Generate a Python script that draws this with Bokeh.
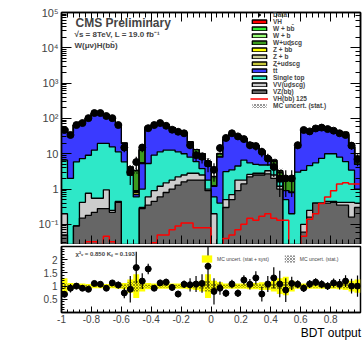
import numpy as np
from math import pi
from bokeh.plotting import figure
from bokeh.layouts import column
from bokeh.models import (Range1d, LogAxis, LinearAxis, Label, Legend, LegendItem,
                          FixedTicker, CustomJSTickFormatter)
from bokeh.embed import file_html
from bokeh.resources import INLINE

FONT = "Liberation Sans"

# ---------------- binning / ticks ----------------
X_MIN, BIN_W, N_BINS = -1.0, 0.04, 50
x_major_ticks = [-1.0, -0.8, -0.6, -0.4, -0.2, 0.0, 0.2, 0.4, 0.6, 0.8]
ratio_ticks = [0.5, 1.0, 1.5, 2.0]

# ---------------- data (entries per bin) ----------------
data = [47, 34, 65, 74, 102, 142, 142, 117, 102, 65, 15, 3.0, 5.8,
        15, 53, 65, 74, 62, 48, 42, 38, 17.5, 9.1, 8.2, 5.3, 3.5,
        14.5, 28, 38, 31, 26, 17.5, 16.5, 11.3, 7.3, 4.2, 2.0, 2.0,
        2.0, 17.5, 47, 43, 52, 55, 50, 45, 38, 34, 17, 7.0]
data_err = [6.9, 5.8, 8.1, 8.6, 10.1, 11.9, 11.9, 10.8, 10.1, 8.1, 3.9, 1.7, 2.4,
            3.9, 7.3, 8.1, 8.6, 7.9, 6.9, 6.5, 6.2, 4.2, 3.0, 2.9, 2.3, 1.9,
            3.8, 5.3, 6.2, 5.6, 5.1, 4.2, 4.1, 3.4, 2.7, 2.0, 1.4, 1.4,
            1.4, 4.2, 6.9, 6.6, 7.2, 7.4, 7.1, 6.7, 6.2, 5.8, 4.1, 2.6]

# ---------------- MC processes (stacked, bottom to top) ----------------
vz = [0.05, 0.0, 0.09, 0.15, 0.18, 0.22, 0.28, 0.28, 0.22, 0.42, 0.0, 0.0, 0.0,
      0.28, 0.35, 0.45, 0.6, 0.8, 1.0, 1.3, 1.6, 1.8, 1.8, 1.8, 0.9, 0.0,
      0.0, 0.3, 0.5, 0.9, 1.4, 2.2, 2.5, 2.5, 2.7, 2.0, 1.0, 0.0,
      0.0, 0.0, 0.06, 0.16, 0.4, 0.4, 0.4, 0.42, 0.35, 0.35, 0.16, 0.3]
vv = [0.15, 0.0, 0.0, 0.27, 0.58, 0.33, 0.27, 0.67, 0.03, 0.03, 0.0, 0.0, 0.0,
      0.02, 0.25, 0.45, 0.6, 0.7, 0.8, 0.9, 0.9, 1.0, 1.0, 0.7, 0.1, 0.2,
      0.0, 0.2, 0.2, 0.9, 0.4, 0.4, 0.3, 0.3, 0.6, 0.5, 0.2, 0.0,
      0.0, 0.0, 0.04, 0.09, 0.0, 0.0, 0.05, 0.03, 0.07, 0.07, 0.26, 0.1]
single_top = [6.4, 2.0, 5.8, 6.9, 8.3, 12.1, 19.0, 18.6, 15.4, 10.9, 5.9, 2.5, 0.6,
              0.7, 4.7, 8.2, 10.1, 11.2, 10.9, 9.1, 7.5, 5.2, 3.2, 1.3, 0.8, 0.4,
              0.4, 2.6, 2.8, 2.7, 4.8, 2.9, 2.2, 2.0, 1.5, 1.3, 0.4, 0.5,
              0.2, 3.0, 3.3, 4.35, 5.1, 7.0, 9.55, 9.55, 7.6, 5.6, 3.0, 0.6]
ttbar = [45, 36, 59, 74, 91, 126, 119, 105, 84, 54, 13.7, 1.3, 0.1,
         4.3, 44.7, 52.9, 58.7, 52.3, 42.3, 33.7, 28, 12, 4, 3.2, 2.7, 0.6,
         7.6, 21.9, 32.5, 28.5, 20.4, 14.5, 12, 7.2, 3.2, 0.7, 0.3, 0.4,
         0.6, 12, 42, 39, 46, 49, 45, 38, 32, 27, 12, 4]
z_udscg = [0.0] * 11 + [0.05, 0.1, 0.1] + [0.0] * 36
z_b = [0.0] * 12 + [0.05, 0.05] + [0.0] * 36
z_bb = [0.0] * 12 + [0.05, 0.05] + [0.0] * 36
w_udscg = [0, 0, 0, 0, 0, 0, 0, 0, 0, 0, 0, 0.3, 2.4,
           7.0, 4.0, 0, 0, 0, 0, 0, 0, 1.5, 3.0, 3.0, 1.5, 1.0,
           2.0, 0, 0, 0, 0, 0, 0, 0, 0, 1.5, 1.0, 1.0,
           1.0, 0, 0, 0, 0, 0, 0, 0, 0, 4.0, 0, 2.0]
w_b = [0] * 14 + [2.0, 1.5] + [0] * 19 + [0.5] + [0] * 12 + [1.0, 0]
w_bb = [0] * 13 + [1.0, 3.0, 2.0, 0, 1.0] + [0] * 18 + [0.3] + [0] * 10 + [1.5, 1.0, 0]
vh_signal = [0, 0, 0, 0, 0.032, 0.032, 0.02, 0.046, 0.032, 0.02, 0, 0, 0,
             0.01, 0.02, 0.03, 0.05, 0.05, 0.07, 0.09, 0.11, 0.11, 0.08, 0.08, 0.08, 0.0,
             0.02, 0.04, 0.05, 0.07, 0.1, 0.15, 0.13, 0.17, 0.2, 0.15, 0.13, 0.13,
             0.0, 0.02, 0.046, 0.14, 0.2, 0.39, 0.6, 0.9, 1.4, 1.5, 1.4, 1.4]

# ---------------- ratio panel ----------------
ratio = [0.69, 0.92, 1.0, 0.92, 0.88, 1.1, 1.07, 0.92, 1.12, 1.04, 0.74, 0.88, 1.7,
         1.19, 1.65, 0.92, 1.12, 1.15, 0.95, 0.7, 1.07, 1.05, 1.08, 1.1, 1.75, 0.8,
         0.92, 0.73, 1.08, 0.73, 1.23, 1.07, 1.31, 0.7, 1.08, 1.31, 1.08, 0.85,
         1.1, 1.07, 0.92, 1.08, 1.15, 1.07, 1.0, 1.12, 1.07, 1.19, 1.0, 1.0]
ratio_err = [0.12, 0.16, 0.12, 0.11, 0.1, 0.08, 0.08, 0.09, 0.1, 0.13, 0.2, 0.5, 0.6,
             0.3, 0.2, 0.11, 0.12, 0.13, 0.13, 0.12, 0.14, 0.25, 0.3, 0.35, 0.8, 0.5,
             0.25, 0.14, 0.16, 0.14, 0.18, 0.2, 0.25, 0.28, 0.3, 0.4, 0.5, 0.45,
             0.25, 0.15, 0.14, 0.15, 0.15, 0.15, 0.15, 0.17, 0.2, 0.22, 0.28, 0.4]
unc_syst = [0.3, 0.12, 0.1, 0.1, 0.08, 0.08, 0.08, 0.08, 0.08, 0.1, 0.12, 0.25, 0.45,
            0.2, 0.12, 0.1, 0.1, 0.1, 0.1, 0.1, 0.1, 0.12, 0.15, 0.2, 0.45, 0.2,
            0.15, 0.1, 0.1, 0.1, 0.1, 0.12, 0.12, 0.15, 0.15, 0.2, 0.3, 0.35,
            0.2, 0.1, 0.1, 0.1, 0.1, 0.1, 0.1, 0.1, 0.12, 0.15, 0.2, 0.25]
unc_stat = [0.1, 0.05, 0.04, 0.04, 0.04, 0.03, 0.03, 0.03, 0.04, 0.05, 0.06, 0.15, 0.2,
            0.1, 0.05, 0.05, 0.05, 0.05, 0.05, 0.05, 0.05, 0.06, 0.08, 0.1, 0.2, 0.1,
            0.08, 0.05, 0.05, 0.05, 0.05, 0.06, 0.06, 0.07, 0.08, 0.1, 0.15, 0.15,
            0.1, 0.05, 0.05, 0.05, 0.05, 0.05, 0.05, 0.05, 0.06, 0.08, 0.1, 0.12]

edges = X_MIN + BIN_W * np.arange(N_BINS + 1)
centers = edges[:-1] + BIN_W / 2
FLOOR = 1e-3


def step_xy(vals):
    xs, ys = [], []
    for i, v in enumerate(vals):
        v = max(float(v), FLOOR)
        xs += [edges[i], edges[i + 1]]
        ys += [v, v]
    return xs, ys


def step_poly(vals):
    xs, ys = step_xy(vals)
    return [edges[0]] + xs + [edges[-1]], [FLOOR] + ys + [FLOOR]


log_fmt = CustomJSTickFormatter(code="""
const e = Math.round(Math.log10(tick));
if (e == 0) return "1";
if (e == 1) return "10";
const sup = {"-":"\u207b","0":"\u2070","1":"\u00b9","2":"\u00b2","3":"\u00b3",
             "4":"\u2074","5":"\u2075","6":"\u2076","7":"\u2077","8":"\u2078","9":"\u2079"};
return "10" + String(e).split("").map(c => sup[c]).join("");
""")
num_fmt = CustomJSTickFormatter(code="""
const v = Math.round(tick * 10) / 10;
return (Math.abs(v) < 1e-9) ? "0" : String(v);
""")

xt = FixedTicker(ticks=x_major_ticks, minor_ticks=list(edges))


def hide_labels(ax):
    ax.major_label_text_font_size = "1px"
    ax.major_label_text_alpha = 0
    ax.major_label_standoff = 0


# ================= upper panel =================
p1 = figure(width=362, height=244, x_range=Range1d(-1, 1),
            y_range=Range1d(10 ** -1.57, 1e5), y_axis_type="log",
            output_backend="svg", toolbar_location=None,
            min_border_left=61, min_border_right=2, min_border_top=12, min_border_bottom=0)
p1.grid.visible = False
p1.outline_line_color = "black"
p1.outline_line_width = 1.5

for ax in p1.xaxis:
    ax.ticker = xt
    hide_labels(ax)
    ax.major_tick_in, ax.major_tick_out = 9, 0
    ax.minor_tick_in, ax.minor_tick_out = 5, 0
    ax.axis_line_width = 1.5
top_ax = LinearAxis(ticker=xt, major_tick_in=9, major_tick_out=0, minor_tick_in=5,
                    minor_tick_out=0, axis_line_width=1.5)
hide_labels(top_ax)
p1.add_layout(top_ax, "above")

for ax in p1.yaxis:
    ax.formatter = log_fmt
    ax.major_label_text_font = FONT
    ax.major_label_text_font_size = "11px"
    ax.major_label_standoff = 3
    ax.major_tick_in, ax.major_tick_out = 10, 0
    ax.minor_tick_in, ax.minor_tick_out = 5, 0
    ax.axis_line_width = 1.5
right_ax = LogAxis(major_tick_in=10, major_tick_out=0, minor_tick_in=5, minor_tick_out=0,
                   axis_line_width=1.5)
hide_labels(right_ax)
p1.add_layout(right_ax, "right")

layers = [("VZ(bb\u0304)", vz, "#666666"),
          ("VV(udscg)", vv, "#cccccc"),
          ("Single top", single_top, "#2ee8c8"),
          ("tt\u0304", ttbar, "#3a3aff"),
          ("Z+udscg", z_udscg, "#c8c83c"),
          ("Z + b", z_b, "#cccc99"),
          ("Z + bb\u0304", z_bb, "#ffff00"),
          ("W+udscg", w_udscg, "#3c9a1e"),
          ("W + b", w_b, "#99ff77"),
          ("W + bb\u0304", w_bb, "#33ee33"),
          ("VH", vh_signal, "#ff0000")]
cum = np.cumsum(np.array([np.array(l[1], dtype=float) for l in layers]), axis=0)
rends = {}
for k in reversed(range(len(layers))):
    name, _, col = layers[k]
    xs, ys = step_poly(cum[k])
    rends[name] = p1.patch(xs, ys, fill_color=col, line_color="black", line_width=1.3)

total = cum[-1]
stat_abs = total * np.array(unc_stat)
r_hatch = p1.quad(left=edges[:-1], right=edges[1:], bottom=np.maximum(total - stat_abs, FLOOR),
                  top=total + stat_abs, fill_alpha=0, line_alpha=0,
                  hatch_pattern="x", hatch_color="black", hatch_scale=3, hatch_weight=0.6,
                  hatch_alpha=0.7)

sx, sy = step_xy(vh_signal)
r_sig = p1.line(sx, sy, line_color="#ff0000", line_width=1.5)

d = np.array(data, dtype=float)
de = np.array(data_err, dtype=float)
p1.segment(x0=centers, y0=np.maximum(d - de, FLOOR), x1=centers, y1=d + de,
           line_color="black", line_width=1.2)
r_data = p1.scatter(centers, d, size=7, color="black")

legend_order = [("Data", r_data), ("VH", rends["VH"]), ("W + bb\u0304", rends["W + bb\u0304"]),
                ("W + b", rends["W + b"]), ("W+udscg", rends["W+udscg"]),
                ("Z + bb\u0304", rends["Z + bb\u0304"]), ("Z + b", rends["Z + b"]),
                ("Z+udscg", rends["Z+udscg"]), ("tt\u0304", rends["tt\u0304"]),
                ("Single top", rends["Single top"]), ("VV(udscg)", rends["VV(udscg)"]),
                ("VZ(bb\u0304)", rends["VZ(bb\u0304)"]), ("VH(bb\u0304) 125", r_sig),
                ("MC uncert. (stat.)", r_hatch)]
leg = Legend(items=[LegendItem(label=n, renderers=[r]) for n, r in legend_order],
             location=(189, 135), label_text_font=FONT, label_text_font_size="6.5px",
             label_text_font_style="bold", glyph_width=18, glyph_height=5,
             label_height=5, label_standoff=5, spacing=0, padding=0, margin=0,
             border_line_alpha=0, background_fill_alpha=0)
p1.add_layout(leg, "center")

p1.add_layout(Label(x=14, y=222, x_units="screen", y_units="screen", text="CMS Preliminary",
                    text_font=FONT, text_font_style="bold", text_font_size="12px",
                    text_baseline="middle"))
p1.add_layout(Label(x=13, y=210, x_units="screen", y_units="screen",
                    text="\u221as =  8TeV, L = 19.0 fb\u207b\u00b9",
                    text_font=FONT, text_font_style="bold", text_font_size="8px",
                    text_baseline="middle"))
p1.add_layout(Label(x=13, y=199, x_units="screen", y_units="screen",
                    text="W(\u03bc\u03bd)H(bb\u0304)",
                    text_font=FONT, text_font_style="bold", text_font_size="8px",
                    text_baseline="middle"))
p1.add_layout(Label(x=-40, y=232, x_units="screen", y_units="screen", angle=pi / 2,
                    text="Entries / 0.04", text_font=FONT, text_font_size="11px",
                    text_align="right", text_baseline="middle"))

# ================= ratio panel =================
p2 = figure(width=362, height=98, x_range=p1.x_range, y_range=Range1d(0, 2.5),
            output_backend="svg", toolbar_location=None,
            min_border_left=61, min_border_right=2, min_border_top=2, min_border_bottom=30)
p2.grid.visible = False
p2.outline_line_color = "black"
p2.outline_line_width = 1.5

# the x title sits at the right end of the axis (ROOT style): em-space padding
# shifts the centred axis title towards the right edge
X_TITLE = "\u2003" * 20 + "BDT output"
for ax in p2.xaxis:
    ax.ticker = xt
    ax.formatter = num_fmt
    ax.major_label_text_font = FONT
    ax.major_label_text_font_size = "10px"
    ax.major_label_standoff = 2
    ax.major_tick_in, ax.major_tick_out = 6, 0
    ax.minor_tick_in, ax.minor_tick_out = 3, 0
    ax.axis_line_width = 1.5
    ax.axis_label = X_TITLE
    ax.axis_label_text_font = FONT
    ax.axis_label_text_font_size = "12px"
    ax.axis_label_text_font_style = "normal"
    ax.axis_label_text_color = "black"
    ax.axis_label_standoff = 0
for ax in p2.yaxis:
    ax.ticker = FixedTicker(ticks=ratio_ticks, minor_ticks=[0.1 * i for i in range(1, 25)])
    ax.formatter = num_fmt
    ax.major_label_text_font = FONT
    ax.major_label_text_font_size = "10px"
    ax.major_label_standoff = 4
    ax.major_tick_in, ax.major_tick_out = 6, 0
    ax.minor_tick_in, ax.minor_tick_out = 3, 0
    ax.axis_line_width = 1.5

us = np.array(unc_syst)
ut = np.array(unc_stat)
r_syst = p2.quad(left=edges[:-1], right=edges[1:], bottom=1 - us, top=1 + us,
                 fill_color="#ffff00", line_color=None)
r_stat2 = p2.quad(left=edges[:-1], right=edges[1:], bottom=1 - ut, top=1 + ut,
                  fill_alpha=0, line_alpha=0, hatch_pattern="x", hatch_color="black",
                  hatch_scale=3, hatch_weight=0.6, hatch_alpha=0.7)

rr = np.array(ratio)
re = np.array(ratio_err)
p2.segment(x0=centers, y0=rr - re, x1=centers, y1=rr + re, line_color="black", line_width=1.2)
p2.segment(x0=edges[:-1], y0=rr, x1=edges[1:], y1=rr, line_color="black", line_width=1.2)
p2.scatter(centers, rr, size=6, color="black")

leg2 = Legend(items=[LegendItem(label="MC uncert. (stat + syst)", renderers=[r_syst]),
                     LegendItem(label="MC uncert. (stat.)", renderers=[r_stat2])],
              orientation="horizontal", location=(139, 49), label_text_font=FONT,
              label_text_font_size="5px", glyph_width=13, glyph_height=9, label_height=9,
              label_standoff=4, spacing=14, padding=0, margin=0,
              border_line_alpha=0, background_fill_alpha=0)
p2.add_layout(leg2, "center")

p2.add_layout(Label(x=14, y=59, x_units="screen", y_units="screen",
                    text="\u03c7\u00b2\u1d65 = 0.850  K\u209b = 0.193",
                    text_font=FONT, text_font_style="bold", text_font_size="6px",
                    text_baseline="middle"))
p2.add_layout(Label(x=-26, y=33, x_units="screen", y_units="screen", angle=pi / 2,
                    text="Data/MC", text_font=FONT, text_font_size="11px",
                    text_align="center", text_baseline="middle"))

layout = column(p1, p2)
open("out.html", "w").write(file_html(layout, INLINE))
